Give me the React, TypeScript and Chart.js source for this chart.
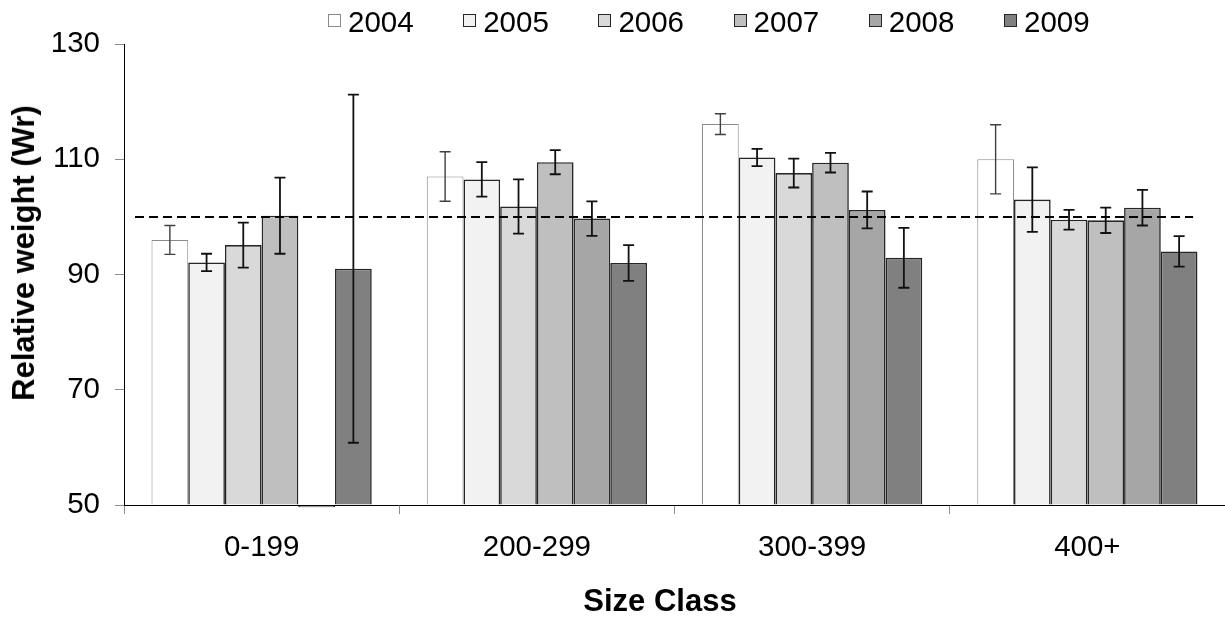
import React, { useEffect, useRef } from "react";
import { Chart, registerables } from "chart.js";

Chart.register(...registerables);

// Size classes on the category axis
const sizeClasses = ["0-199", "200-299", "300-399", "400+"];
const years = ["2004", "2005", "2006", "2007", "2008", "2009"];

// Mean relative weight (Wr) per size class, one array per year
const wr2004 = [96.0, 107.0, 116.1, 110.0];
const wr2005 = [92.1, 106.5, 110.3, 103.0];
const wr2006 = [95.1, 101.8, 107.6, 99.5];
const wr2007 = [100.2, 109.5, 109.4, 99.4];
const wr2008 = [49.6, 99.7, 101.2, 101.6];
const wr2009 = [91.0, 92.0, 92.9, 94.0];

// Symmetric error (±) per bar; null = no error bar
const err2004 = [2.5, 4.3, 1.8, 6.0];
const err2005 = [1.5, 3.0, 1.5, 5.6];
const err2006 = [3.9, 4.7, 2.5, 1.7];
const err2007 = [6.6, 2.1, 1.7, 2.2];
const err2008 = [null, 3.0, 3.2, 3.1];
const err2009 = [30.2, 3.1, 5.2, 2.65];

// Value axis
const yMin = 50;
const yMax = 130;
const yStep = 20;

// Dashed reference line at Wr = 100, spanning category positions
const targetWr = 100;
const targetFrom = -0.46;
const targetTo = 3.384;

const seriesValues = [wr2004, wr2005, wr2006, wr2007, wr2008, wr2009];
const seriesErrors = [err2004, err2005, err2006, err2007, err2008, err2009];
const fills = ["#ffffff", "#f2f2f2", "#d9d9d9", "#bfbfbf", "#a6a6a6", "#808080"];
const borders = ["#8a8a8a", "#262626", "#262626", "#262626", "#262626", "#262626"];
const errColors = ["#404040", "#111111", "#111111", "#111111", "#111111", "#111111"];

const FONT = '"Liberation Sans", Arial, Helvetica, sans-serif';

const errorBarPlugin = {
  id: "errorBars",
  afterDatasetsDraw(chart: any) {
    const { ctx } = chart;
    const y = chart.scales.y;
    chart.data.datasets.forEach((ds: any, i: number) => {
      const meta = chart.getDatasetMeta(i);
      meta.data.forEach((bar: any, j: number) => {
        const e = ds.errors[j];
        const v = ds.data[j];
        if (e == null || v == null) return;
        const top = y.getPixelForValue(v + e);
        const bot = y.getPixelForValue(v - e);
        const x = bar.x;
        const cap = 5.5;
        ctx.save();
        ctx.strokeStyle = ds.errorColor;
        ctx.lineWidth = ds.errorWidth;
        ctx.beginPath();
        ctx.moveTo(x, top);
        ctx.lineTo(x, bot);
        ctx.moveTo(x - cap, top);
        ctx.lineTo(x + cap, top);
        ctx.moveTo(x - cap, bot);
        ctx.lineTo(x + cap, bot);
        ctx.stroke();
        ctx.restore();
      });
    });
  },
};

const targetLinePlugin = {
  id: "targetLine",
  afterDatasetsDraw(chart: any) {
    const { ctx } = chart;
    const x = chart.scales.x;
    const y = chart.scales.y;
    const py = y.getPixelForValue(targetWr);
    ctx.save();
    ctx.strokeStyle = "#000000";
    ctx.lineWidth = 2;
    ctx.setLineDash([9, 5]);
    ctx.beginPath();
    ctx.moveTo(x.getPixelForValue(targetFrom), py);
    ctx.lineTo(x.getPixelForValue(targetTo), py);
    ctx.stroke();
    ctx.restore();
  },
};

export default function App() {
  const canvasRef = useRef<HTMLCanvasElement | null>(null);

  useEffect(() => {
    if (!canvasRef.current) return;
    const chart = new Chart(canvasRef.current, {
      type: "bar",
      data: {
        labels: sizeClasses,
        datasets: years.map((yr, i) => ({
          label: yr,
          data: seriesValues[i],
          errors: seriesErrors[i],
          errorColor: errColors[i],
          errorWidth: i === 0 ? 1.4 : 1.8,
          backgroundColor: fills[i],
          borderColor: borders[i],
          borderWidth: i === 0 ? 1 : 1.6,
          base: yMin,
          categoryPercentage: 0.8,
          barPercentage: 1.0,
          clip: false,
        })) as any,
      },
      options: {
        responsive: false,
        maintainAspectRatio: false,
        animation: false,
        devicePixelRatio: 1,
        layout: { padding: { top: 44, right: 0, bottom: 0, left: 0 } },
        plugins: {
          legend: { display: false },
          tooltip: { enabled: false },
        },
        scales: {
          x: {
            type: "category",
            offset: true,
            grid: {
              offset: true,
              drawOnChartArea: false,
              drawTicks: true,
              tickLength: 9,
              color: "#8c8c8c",
            },
            border: { display: true, color: "#000000", width: 1, z: 1 },
            ticks: {
              color: "#000000",
              padding: 16,
              font: { family: FONT, size: 29.5 },
              maxRotation: 0,
              autoSkip: false,
            },
            afterFit: (scale: any) => {
              scale.height = 115;
            },
          },
          y: {
            type: "linear",
            min: yMin,
            max: yMax,
            grid: {
              drawOnChartArea: false,
              drawTicks: true,
              tickLength: 9,
              color: "#8c8c8c",
            },
            border: { display: true, color: "#000000", width: 1, z: 1 },
            ticks: {
              stepSize: yStep,
              color: "#000000",
              padding: 15,
              font: { family: FONT, size: 29.5 },
            },
            afterFit: (scale: any) => {
              scale.width = 124;
            },
          },
        },
      } as any,
      plugins: [errorBarPlugin, targetLinePlugin],
    });
    return () => chart.destroy();
  }, []);

  return (
    <div
      style={{
        position: "absolute",
        left: 0,
        top: 0,
        width: 1225,
        height: 620,
        background: "#ffffff",
        fontFamily: FONT,
        color: "#000",
      }}
    >
      <canvas
        ref={canvasRef}
        width={1225}
        height={620}
        style={{ display: "block", width: 1225, height: 620 }}
      />
      {years.map((yr, i) => (
        <div
          key={yr}
          style={{
            position: "absolute",
            left: 328 + i * 135.2,
            top: 5,
            height: 34,
            display: "flex",
            alignItems: "center",
            fontSize: 29.5,
            lineHeight: "34px",
            whiteSpace: "nowrap",
          }}
        >
          <span
            style={{
              display: "inline-block",
              boxSizing: "border-box",
              width: 13,
              height: 13,
              marginRight: 7,
              marginTop: -3,
              background: fills[i],
              border: `1px solid ${i === 0 ? "#8a8a8a" : "#262626"}`,
            }}
          />
          {yr}
        </div>
      ))}
      <div
        style={{
          position: "absolute",
          left: 24,
          top: 253,
          transform: "translate(-50%, -50%) rotate(-90deg)",
          fontWeight: "bold",
          fontSize: 31,
          whiteSpace: "nowrap",
        }}
      >
        Relative weight (Wr)
      </div>
      <div
        style={{
          position: "absolute",
          left: 660,
          top: 583,
          transform: "translateX(-50%)",
          fontWeight: "bold",
          fontSize: 31,
          whiteSpace: "nowrap",
        }}
      >
        Size Class
      </div>
    </div>
  );
}
